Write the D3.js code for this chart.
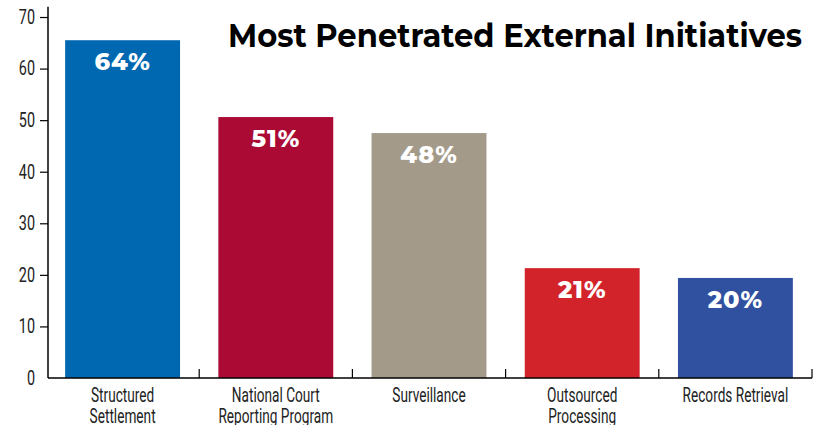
<!DOCTYPE html>
<html>
<head>
<meta charset="utf-8">
<script src="https://cdn.jsdelivr.net/npm/d3@7"></script>
<style>
  body { margin: 0; background: #fff; }
  svg { display: block; }
</style>
</head>
<body>
<div id="chart"></div>
<script>
// data
let categories = ["Structured Settlement", "National Court Reporting Program", "Surveillance", "Outsourced Processing", "Records Retrieval"];
let catLines = [["Structured", "Settlement"], ["National Court", "Reporting Program"], ["Surveillance"], ["Outsourced", "Processing"], ["Records Retrieval"]];
let values = [65.5, 50.6, 47.5, 21.3, 19.4];
let valueLabels = ["64%", "51%", "48%", "21%", "20%"];
let colors = ["#0067b1", "#ab0a35", "#a39a8a", "#d2232a", "#3050a0"];
let yTicks = [0, 10, 20, 30, 40, 50, 60, 70];

let width = 823, height = 425;
let narrow = "Roboto, 'DejaVu Sans', sans-serif";

// squeeze text horizontally around its anchor point (condensed look)
function condense(sel, sx) {
    sel.attr("transform", function() {
        let ax = +this.getAttribute("x") || 0;
        return "translate(" + ax + ",0) scale(" + sx + ",1) translate(" + (-ax) + ",0)";
    });
}

let svg = d3.select("#chart").append("svg")
    .attr("width", width)
    .attr("height", height);

let x = d3.scaleBand()
    .domain(categories)
    .range([46, 812])
    .paddingInner(0.25)
    .paddingOuter(0.125);

let y = d3.scaleLinear()
    .domain([0, 72])
    .range([378, 6.7]);

// bars
svg.append("g").selectAll("rect")
    .data(categories)
    .join("rect")
    .attr("x", d => x(d))
    .attr("y", (d, i) => y(values[i]))
    .attr("width", x.bandwidth())
    .attr("height", (d, i) => y(0) - y(values[i]))
    .attr("fill", (d, i) => colors[i]);

// value labels inside bars
svg.append("g").selectAll("text")
    .data(categories)
    .join("text")
    .attr("x", d => x(d) + x.bandwidth() / 2)
    .attr("y", (d, i) => y(values[i]) + 30)
    .attr("text-anchor", "middle")
    .attr("fill", "#fff")
    .style("font-family", "Montserrat, 'Open Sans', sans-serif")
    .style("font-weight", "800")
    .style("font-size", "24px")
    .style("letter-spacing", "1px")
    .text((d, i) => valueLabels[i]);

// y axis
let yAxis = svg.append("g")
    .attr("transform", "translate(48,0)")
    .call(d3.axisLeft(y).tickValues(yTicks).tickSize(8).tickPadding(5));
yAxis.select(".domain").attr("d", "M0," + y(72) + "V" + y(0)).attr("stroke", "#000").attr("stroke-width", 1.5);
yAxis.selectAll(".tick line").attr("stroke", "#000").attr("stroke-width", 1.2);
yAxis.selectAll(".tick").filter(d => d === 0).select("line").remove();
yAxis.selectAll(".tick text")
    .style("font-family", narrow)
    .style("font-size", "20px")
    .attr("fill", "#222")
    .call(condense, 0.72);

// x axis: line plus boundary ticks pointing up
let xg = svg.append("g");
xg.append("line")
    .attr("x1", 48).attr("x2", 812)
    .attr("y1", y(0)).attr("y2", y(0))
    .attr("stroke", "#000").attr("stroke-width", 1.5);
let step = x.step();
xg.selectAll("line.bt")
    .data(categories)
    .join("line")
    .attr("class", "bt")
    .attr("x1", d => x(d) + x.bandwidth() + x.paddingInner() * step / 2)
    .attr("x2", d => x(d) + x.bandwidth() + x.paddingInner() * step / 2)
    .attr("y1", y(0))
    .attr("y2", y(0) - 9)
    .attr("stroke", "#000").attr("stroke-width", 1.2);

// category labels
let catText = xg.selectAll("text.cat")
    .data(categories)
    .join("text")
    .attr("class", "cat")
    .attr("x", d => x(d) + x.bandwidth() / 2)
    .attr("y", 402)
    .attr("text-anchor", "middle")
    .attr("fill", "#222")
    .style("font-family", narrow)
    .style("font-size", "19.5px")
    .call(condense, 0.7);
catText.selectAll("tspan")
    .data((d, i) => catLines[i])
    .join("tspan")
    .attr("x", function() { return this.parentNode.getAttribute("x"); })
    .attr("dy", (d, i) => i === 0 ? 0 : 21)
    .text(d => d);

// title
svg.append("text")
    .attr("x", 228)
    .attr("y", 47)
    .attr("textLength", 574)
    .attr("lengthAdjust", "spacingAndGlyphs")
    .style("font-family", "Montserrat, 'Open Sans', sans-serif")
    .style("font-weight", "700")
    .style("font-size", "33px")
    .attr("fill", "#000")
    .text("Most Penetrated External Initiatives");
</script>
</body>
</html>
